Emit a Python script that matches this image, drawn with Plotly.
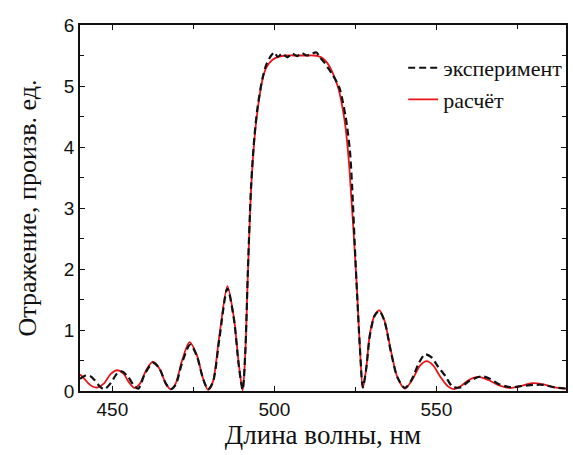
import plotly.graph_objects as go

# Calculated reflection (red)
calc_x = [440, 441, 442.5, 444, 445.5, 447.5, 449.5, 451.5, 453.5, 455, 456.8, 458.5, 460.5, 462.5,
          464.5, 466.5, 468, 469.5, 471.5, 473.8, 476, 478, 479.5, 481, 483, 485.5, 487.5, 489, 490.2,
          491, 491.8, 492.8, 493.8, 494.8, 496.3, 497.5, 499.4, 501.5, 503.5, 506, 508, 510, 512, 513.5,
          515, 516.8, 518.5, 519.8, 521, 522, 523, 523.8, 524.5, 525.5, 526.3, 527.3, 528.3, 529.5, 531,
          532.4, 534, 536, 538, 540.3, 542.5, 545, 547, 549, 551, 553.5, 555.5, 557.5, 560, 563, 566,
          569, 572.5, 576, 579.5, 583, 586.5, 590]
calc_y = [0.27, 0.22, 0.13, 0.07, 0.06, 0.13, 0.28, 0.34, 0.28, 0.15, 0.05, 0.12, 0.35, 0.48,
          0.37, 0.12, 0.03, 0.12, 0.50, 0.80, 0.60, 0.20, 0.02, 0.15, 0.90, 1.72, 1.20, 0.45, 0.01,
          0.60, 1.90, 3.30, 4.10, 4.60, 5.10, 5.30, 5.43, 5.48, 5.50, 5.50, 5.50, 5.50, 5.50, 5.49,
          5.45, 5.34, 5.15, 4.95, 4.65, 4.30, 3.75, 3.12, 2.55, 1.65, 0.80, 0.05, 0.35, 0.95, 1.25,
          1.32, 1.15, 0.65, 0.22, 0.04, 0.18, 0.42, 0.49, 0.42, 0.25, 0.08, 0.03, 0.08, 0.18, 0.23, 0.18,
          0.10, 0.05, 0.08, 0.13, 0.11, 0.06, 0.04]

# Experimental reflection (black dashed)
exp_x = [440, 441.5, 443, 444.5, 446, 447.5, 449.5, 451.5, 453, 455, 456.5, 458, 460, 462.5,
         464.5, 466.5, 468, 469.5, 471.5, 474, 476, 478, 479.5, 481, 483, 485.5, 487.5, 489, 490.2,
         491, 491.8, 492.8, 493.8, 494.8, 496.3, 497.5, 499, 500, 501, 502.5, 504, 505.5, 507, 508.5,
         510, 511.5, 513, 514, 515.5, 516.5, 518, 520, 522, 523.3, 524, 524.8, 525.6, 526.4,
         527.3, 528.3, 529.5, 531, 532.4, 534, 536, 538, 540.3, 542.5, 544.5, 546.5, 548.5, 550.5,
         552.7, 555, 557.5, 560, 564, 566.5, 569, 573, 576, 580, 583, 586.5, 590]
exp_y = [0.20, 0.25, 0.25, 0.18, 0.08, 0.03, 0.13, 0.29, 0.32, 0.22, 0.10, 0.04, 0.28, 0.46,
         0.37, 0.12, 0.03, 0.10, 0.46, 0.76, 0.58, 0.20, 0.03, 0.14, 0.85, 1.68, 1.18, 0.42, 0.02,
         0.62, 1.95, 3.35, 4.15, 4.65, 5.12, 5.35, 5.50, 5.55, 5.48, 5.53, 5.47, 5.53, 5.49, 5.54,
         5.50, 5.53, 5.55, 5.47, 5.38, 5.30, 5.18, 4.98, 4.49, 3.94, 3.34, 2.40, 1.50, 0.70,
         0.06, 0.35, 0.92, 1.24, 1.31, 1.14, 0.63, 0.22, 0.05, 0.20, 0.45, 0.60, 0.55, 0.40,
         0.25, 0.07, 0.06, 0.16, 0.24, 0.20, 0.12, 0.06, 0.08, 0.10, 0.10, 0.06, 0.04]

x_range = [440, 590]
y_range = [0, 6]

fig = go.Figure()
fig.add_trace(go.Scatter(
    x=calc_x, y=calc_y, mode="lines", name="расчёт", legendrank=2,
    line=dict(color="#e8151b", width=1.8, shape="spline", smoothing=0.8),
))
fig.add_trace(go.Scatter(
    x=exp_x, y=exp_y, mode="lines", name="эксперимент", legendrank=1,
    line=dict(color="#111111", width=2.2, dash="7px,4px", shape="spline", smoothing=0.8),
))

axis_common = dict(
    showline=True, linecolor="#111111", linewidth=1.5, mirror="ticks",
    ticks="inside", ticklen=5, tickwidth=1.3, tickcolor="#111111",
    showgrid=False, zeroline=False,
    tickfont=dict(family="Liberation Sans", size=19, color="#111111"),
)

fig.update_layout(
    width=573, height=455,
    margin=dict(l=80, r=5, t=25, b=64),
    paper_bgcolor="white", plot_bgcolor="white",
    showlegend=True,
    legend=dict(
        x=0.665, y=0.94, xanchor="left", yanchor="top",
        bgcolor="rgba(0,0,0,0)",
        font=dict(family="Liberation Serif", size=22, color="#111111"),
        tracegroupgap=0, itemwidth=30,
    ),
    xaxis=dict(
        range=x_range, dtick=50, tick0=450,
        minor=dict(dtick=25, ticks="inside", ticklen=4, tickcolor="#111111", tickwidth=1.2),
        title=dict(text="Длина волны, нм", standoff=5,
                   font=dict(family="Liberation Serif", size=27, color="#111111")),
        **axis_common,
    ),
    yaxis=dict(
        range=y_range, dtick=1, tick0=0,
        minor=dict(dtick=0.5, ticks="inside", ticklen=4, tickcolor="#111111", tickwidth=1.2),
        title=dict(text="Отражение, произв. ед.", standoff=20,
                   font=dict(family="Liberation Serif", size=26, color="#111111")),
        **axis_common,
    ),
)

fig.write_html("out.html")
